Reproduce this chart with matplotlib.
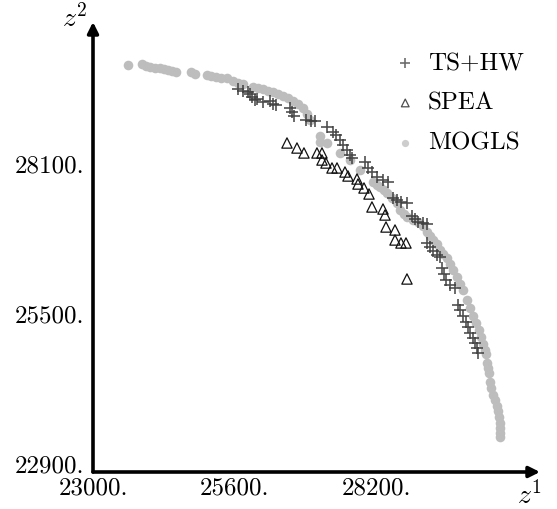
import matplotlib
matplotlib.use("Agg")
import matplotlib.pyplot as plt

# ---------------- data ----------------
mogls_x = [23641, 23897, 23970, 24044, 24135, 24227, 24300, 24373, 24446, 24520,
           24794, 24868, 25087, 25161, 25252, 25344, 25454, 25563, 25655, 25747,
           25930, 26021, 26113, 26204, 26296, 26387, 26479, 26570, 26662, 26754,
           26845, 26918, 26973, 27156, 27156, 27285, 27523, 27706, 27889, 28127,
           28200, 28255, 28328, 28383, 28475, 28566, 28621, 28694, 28749, 28859,
           28951, 29042, 29116, 29170, 29225, 29299, 29354, 29409, 29482, 29537,
           29592, 29665, 29720, 29775, 29848, 29903, 29958, 30013, 30068, 30104,
           30141, 30178, 30196, 30214, 30232, 30251, 30269, 30287, 30324, 30361,
           30397, 30416, 30434, 30452, 30452, 30452, 30452]
mogls_y = [29815, 29833, 29798, 29780, 29763, 29763, 29746, 29729, 29711, 29694,
           29694, 29659, 29642, 29625, 29607, 29590, 29590, 29538, 29503, 29486,
           29434, 29416, 29399, 29364, 29347, 29313, 29278, 29243, 29191, 29139,
           29070, 28966, 28862, 28584, 28480, 28463, 28290, 28168, 27995, 27787,
           27735, 27700, 27648, 27596, 27510, 27423, 27302, 27233, 27181, 27129,
           27094, 27025, 26921, 26851, 26782, 26713, 26609, 26539, 26470, 26366,
           26262, 26141, 26019, 25915, 25742, 25603, 25465, 25344, 25222, 25101,
           24980, 24876, 24806, 24650, 24564, 24477, 24321, 24217, 24096, 24009,
           23905, 23818, 23715, 23611, 23524, 23437, 23368]

tshw_x = [25655, 25747, 25838, 25875, 25911, 25966, 26003, 26113, 26241, 26296,
          26351, 26607, 26644, 26680, 26900, 26992, 27065, 27285, 27394, 27449,
          27523, 27578, 27651, 27706, 27742, 27980, 28035, 28108, 28200, 28310,
          28401, 28493, 28566, 28639, 28749, 28841, 28896, 28951, 29042, 29116,
          29116, 29170, 29225, 29299, 29354, 29390, 29427, 29463, 29537, 29628,
          29683, 29720, 29775, 29830, 29866, 29903, 29958, 29994, 30031, 30049]
tshw_y = [29399, 29364, 29347, 29313, 29260, 29208, 29225, 29173, 29191, 29139,
          29121, 29070, 29000, 28931, 28862, 28844, 28844, 28740, 28654, 28602,
          28515, 28428, 28342, 28255, 28203, 28134, 28030, 27960, 27874, 27822,
          27787, 27510, 27475, 27440, 27423, 27198, 27146, 27094, 27077, 27059,
          26730, 26661, 26591, 26522, 26487, 26297, 26193, 26089, 26002, 25950,
          25655, 25569, 25465, 25361, 25274, 25170, 25084, 24997, 24910, 24824]

spea_x = [26552, 26735, 26863, 27101, 27193, 27193, 27266, 27376, 27468, 27614,
          27669, 27834, 27852, 27962, 28054, 28108, 28310, 28347, 28365, 28530,
          28530, 28639, 28731, 28749]
spea_y = [28463, 28376, 28290, 28290, 28290, 28168, 28116, 28030, 28030, 27960,
          27891, 27839, 27752, 27683, 27579, 27354, 27319, 27215, 27007, 26955,
          26782, 26730, 26730, 26106]

x_ticks = [23000, 25600, 28200]
x_ticklabels = ["23000.", "25600.", "28200."]
y_ticks = [22900, 25500, 28100]
y_ticklabels = ["22900.", "25500.", "28100."]
series_labels = ["TS+HW", "SPEA", "MOGLS"]

# ---------------- figure ----------------
W, H = 557, 509
fig = plt.figure(figsize=(W / 100, H / 100), dpi=100)
ax = fig.add_axes([93 / W, 1 - 472 / H, (540 - 93) / W, (472 - 22) / H])
ax.set_xlim(23000, 31185)
ax.set_ylim(22761, 30560)

FONT = "cmr10"
FS = 18

h_m = ax.scatter(mogls_x, mogls_y, s=48, color="#bdbdbd", marker="o",
                 linewidths=0, zorder=2, label=series_labels[2])
h_t = ax.scatter(tshw_x, tshw_y, s=80, color="#3e3e3e", marker="+",
                 linewidths=1.2, alpha=0.9, zorder=3, label=series_labels[0])
h_s = ax.scatter(spea_x, spea_y, s=55, facecolors="none", edgecolors="#111111",
                 marker="^", linewidths=0.9, zorder=4, label=series_labels[1])

for sp in ax.spines.values():
    sp.set_visible(False)

# axes with arrows
ax.annotate("", xy=(1.0, 0.0), xytext=(0.0, 0.0), xycoords="axes fraction",
            arrowprops=dict(arrowstyle="-|>", lw=2.6, color="black",
                            mutation_scale=16, shrinkA=0, shrinkB=0))
ax.annotate("", xy=(0.0, 1.0), xytext=(0.0, 0.0), xycoords="axes fraction",
            arrowprops=dict(arrowstyle="-|>", lw=2.6, color="black",
                            mutation_scale=16, shrinkA=0, shrinkB=0))

ax.set_xticks(x_ticks)
ax.set_xticklabels(x_ticklabels, fontfamily=FONT, fontsize=FS)
ax.set_yticks(y_ticks)
ax.set_yticklabels(y_ticklabels, fontfamily=FONT, fontsize=FS)
ax.tick_params(axis="both", length=0, pad=4)
ax.tick_params(axis="y", pad=6)

plt.rcParams["mathtext.fontset"] = "cm"
fig.text(529 / W, 1 - 496 / H, r"$z^1$", fontsize=FS + 2, ha="center", va="center")
fig.text(75 / W, 1 - 19 / H, r"$z^2$", fontsize=FS + 2, ha="center", va="center")

leg = ax.legend(handles=[h_t, h_s, h_m], labels=series_labels,
                loc="upper left", bbox_to_anchor=(394 / W, 1 - 52 / H),
                bbox_transform=fig.transFigure, frameon=False,
                prop={"family": FONT, "size": FS}, handletextpad=0.45,
                handlelength=0.9, labelspacing=0.7, markerscale=0.75,
                borderpad=0, borderaxespad=0)
for h in leg.legend_handles:
    h.set_alpha(0.75)

fig.savefig("out.png", dpi=100)
